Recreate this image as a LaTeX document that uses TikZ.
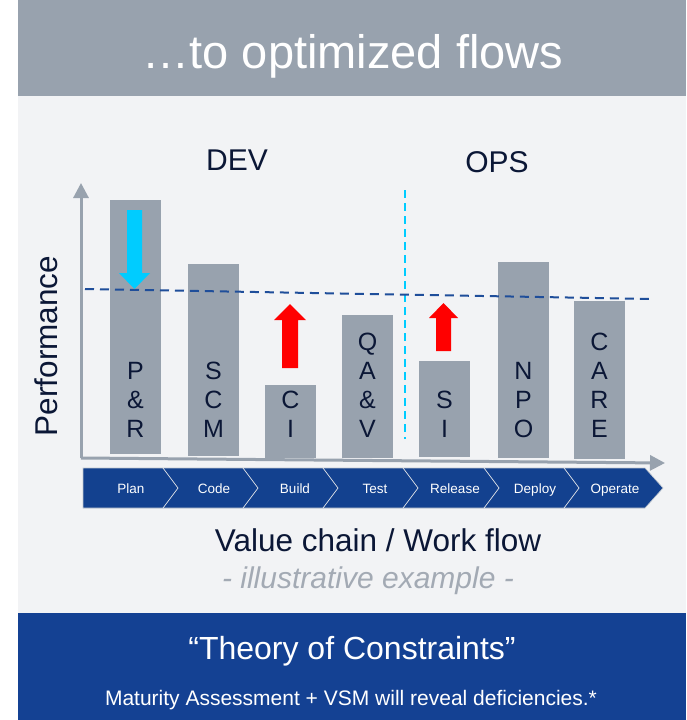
\documentclass[tikz,border=0pt]{standalone}
\usepackage{fontspec}
\setmainfont{Liberation Sans}
\usetikzlibrary{arrows.meta}

\definecolor{slate}{HTML}{98A2AE}
\definecolor{paper}{HTML}{F2F3F5}
\definecolor{navy}{HTML}{0B1736}
\definecolor{flowblue}{HTML}{13418F}
\definecolor{footblue}{HTML}{144193}
\definecolor{levelblue}{HTML}{1F4E9A}
\definecolor{skyblue}{HTML}{00CCFF}
\definecolor{hintgray}{HTML}{A3AAB4}

\begin{document}
\begin{tikzpicture}[x=1pt,y=-1pt,
    barlabel/.style={anchor=south,inner sep=0,align=center,text=navy,
      font=\fontsize{25}{29}\selectfont},
    steplabel/.style={anchor=base,inner sep=0,text=white,
      font=\fontsize{13.5}{16}\selectfont},
    axis/.style={slate,line width=3pt,-{Triangle[width=15pt,length=15pt]}}]
  \useasboundingbox (0,0) rectangle (686,720);

  % panels
  \fill[white] (0,0) rectangle (686,720);
  \fill[slate] (18,0) rectangle (686,96);
  \fill[paper] (18,96) rectangle (686,613);
  \fill[footblue] (18,613) rectangle (686,720);

  \node[anchor=base,text=white,font=\fontsize{47}{50}\selectfont] (title) at (353,68) {\ldots to optimized flows};
  \node[anchor=base,text=navy,font=\fontsize{30}{34}\selectfont] (dev) at (237,170) {DEV};
  \node[anchor=base,text=navy,font=\fontsize{30}{34}\selectfont] (ops) at (497,172) {OPS};

  % bars
  \fill[slate] (110,200) rectangle (161,454);
  \fill[slate] (188,264) rectangle (239,456);
  \fill[slate] (265,385) rectangle (316,458);
  \fill[slate] (342,315) rectangle (393,458);
  \fill[slate] (419,361) rectangle (470,457);
  \fill[slate] (498,262) rectangle (549,458);
  \fill[slate] (574,301) rectangle (625,459);

  \node[barlabel] (plan) at (135.5,438) {P\\\&\\R};
  \node[barlabel] (scm) at (213.5,438) {S\\C\\M};
  \node[barlabel] (ci) at (290.5,438) {C\\I};
  \node[barlabel] (qav) at (367.5,438) {Q\\A\\\&\\V};
  \node[barlabel] (si) at (444.5,438) {S\\I};
  \node[barlabel] (npo) at (523.5,438) {N\\P\\O};
  \node[barlabel] (care) at (599.5,438) {C\\A\\R\\E};

  % axes
  \coordinate (origin) at (81,458);
  \coordinate (ytop) at (81,183);
  \coordinate (xend) at (665,463);
  \draw[axis] (origin) -- (ytop);
  \draw[axis] (origin) -- (xend);
  \node[rotate=90,text=navy,font=\fontsize{31.5}{35}\selectfont] (perf) at (46,346) {Performance};

  % DEV / OPS border and level line
  \draw[skyblue,line width=2pt,dash pattern=on 8pt off 5pt] (405,190) -- (405,439);
  \draw[levelblue,line width=2pt,dash pattern=on 9pt off 6pt] (85,289) -- (653,299);

  % block arrows
  \fill[skyblue] (127,210) -- (142,210) -- (142,273) -- (150,273) -- (134.5,289)
    -- (119,273) -- (127,273) -- cycle;
  \fill[red] (282,368) -- (298,368) -- (298,320) -- (306,320) -- (290,304)
    -- (274,320) -- (282,320) -- cycle;
  \fill[red] (436,351) -- (451,351) -- (451,318) -- (458,318) -- (443.5,303)
    -- (429,318) -- (436,318) -- cycle;

  % value chain
  \filldraw[fill=flowblue,draw=slate!60,line width=0.6pt]
    (83,468) -- (645,468) -- (663,488) -- (645,508) -- (83,508) -- cycle;
  \draw[white!70!slate,line width=0.7pt]
    (163,468) -- (178,488) -- (163,508)
    (243,468) -- (258,488) -- (243,508)
    (323,468) -- (338,488) -- (323,508)
    (403,468) -- (418,488) -- (403,508)
    (484,468) -- (499,488) -- (484,508)
    (564,468) -- (579,488) -- (564,508);
  \node[steplabel] (s1) at (131,493) {Plan};
  \node[steplabel] (s2) at (214,493) {Code};
  \node[steplabel] (s3) at (295,493) {Build};
  \node[steplabel] (s4) at (375,493) {Test};
  \node[steplabel] (s5) at (455,493) {Release};
  \node[steplabel] (s6) at (535,493) {Deploy};
  \node[steplabel] (s7) at (615,493) {Operate};

  \node[anchor=base,text=navy,font=\fontsize{31.5}{35}\selectfont] (chain) at (378,551) {Value chain / Work flow};
  \node[anchor=base,text=hintgray,font=\fontsize{30}{34}\selectfont\itshape] (hint) at (368,588) {- illustrative example -};

  % footer
  \node[anchor=base,text=white,font=\fontsize{32}{36}\selectfont] (toc) at (352,659) {``Theory of Constraints''};
  \node[anchor=base,text=white,font=\fontsize{21}{25}\selectfont] (note) at (351,705) {Maturity Assessment + VSM will reveal deficiencies.*};
\end{tikzpicture}
\end{document}
